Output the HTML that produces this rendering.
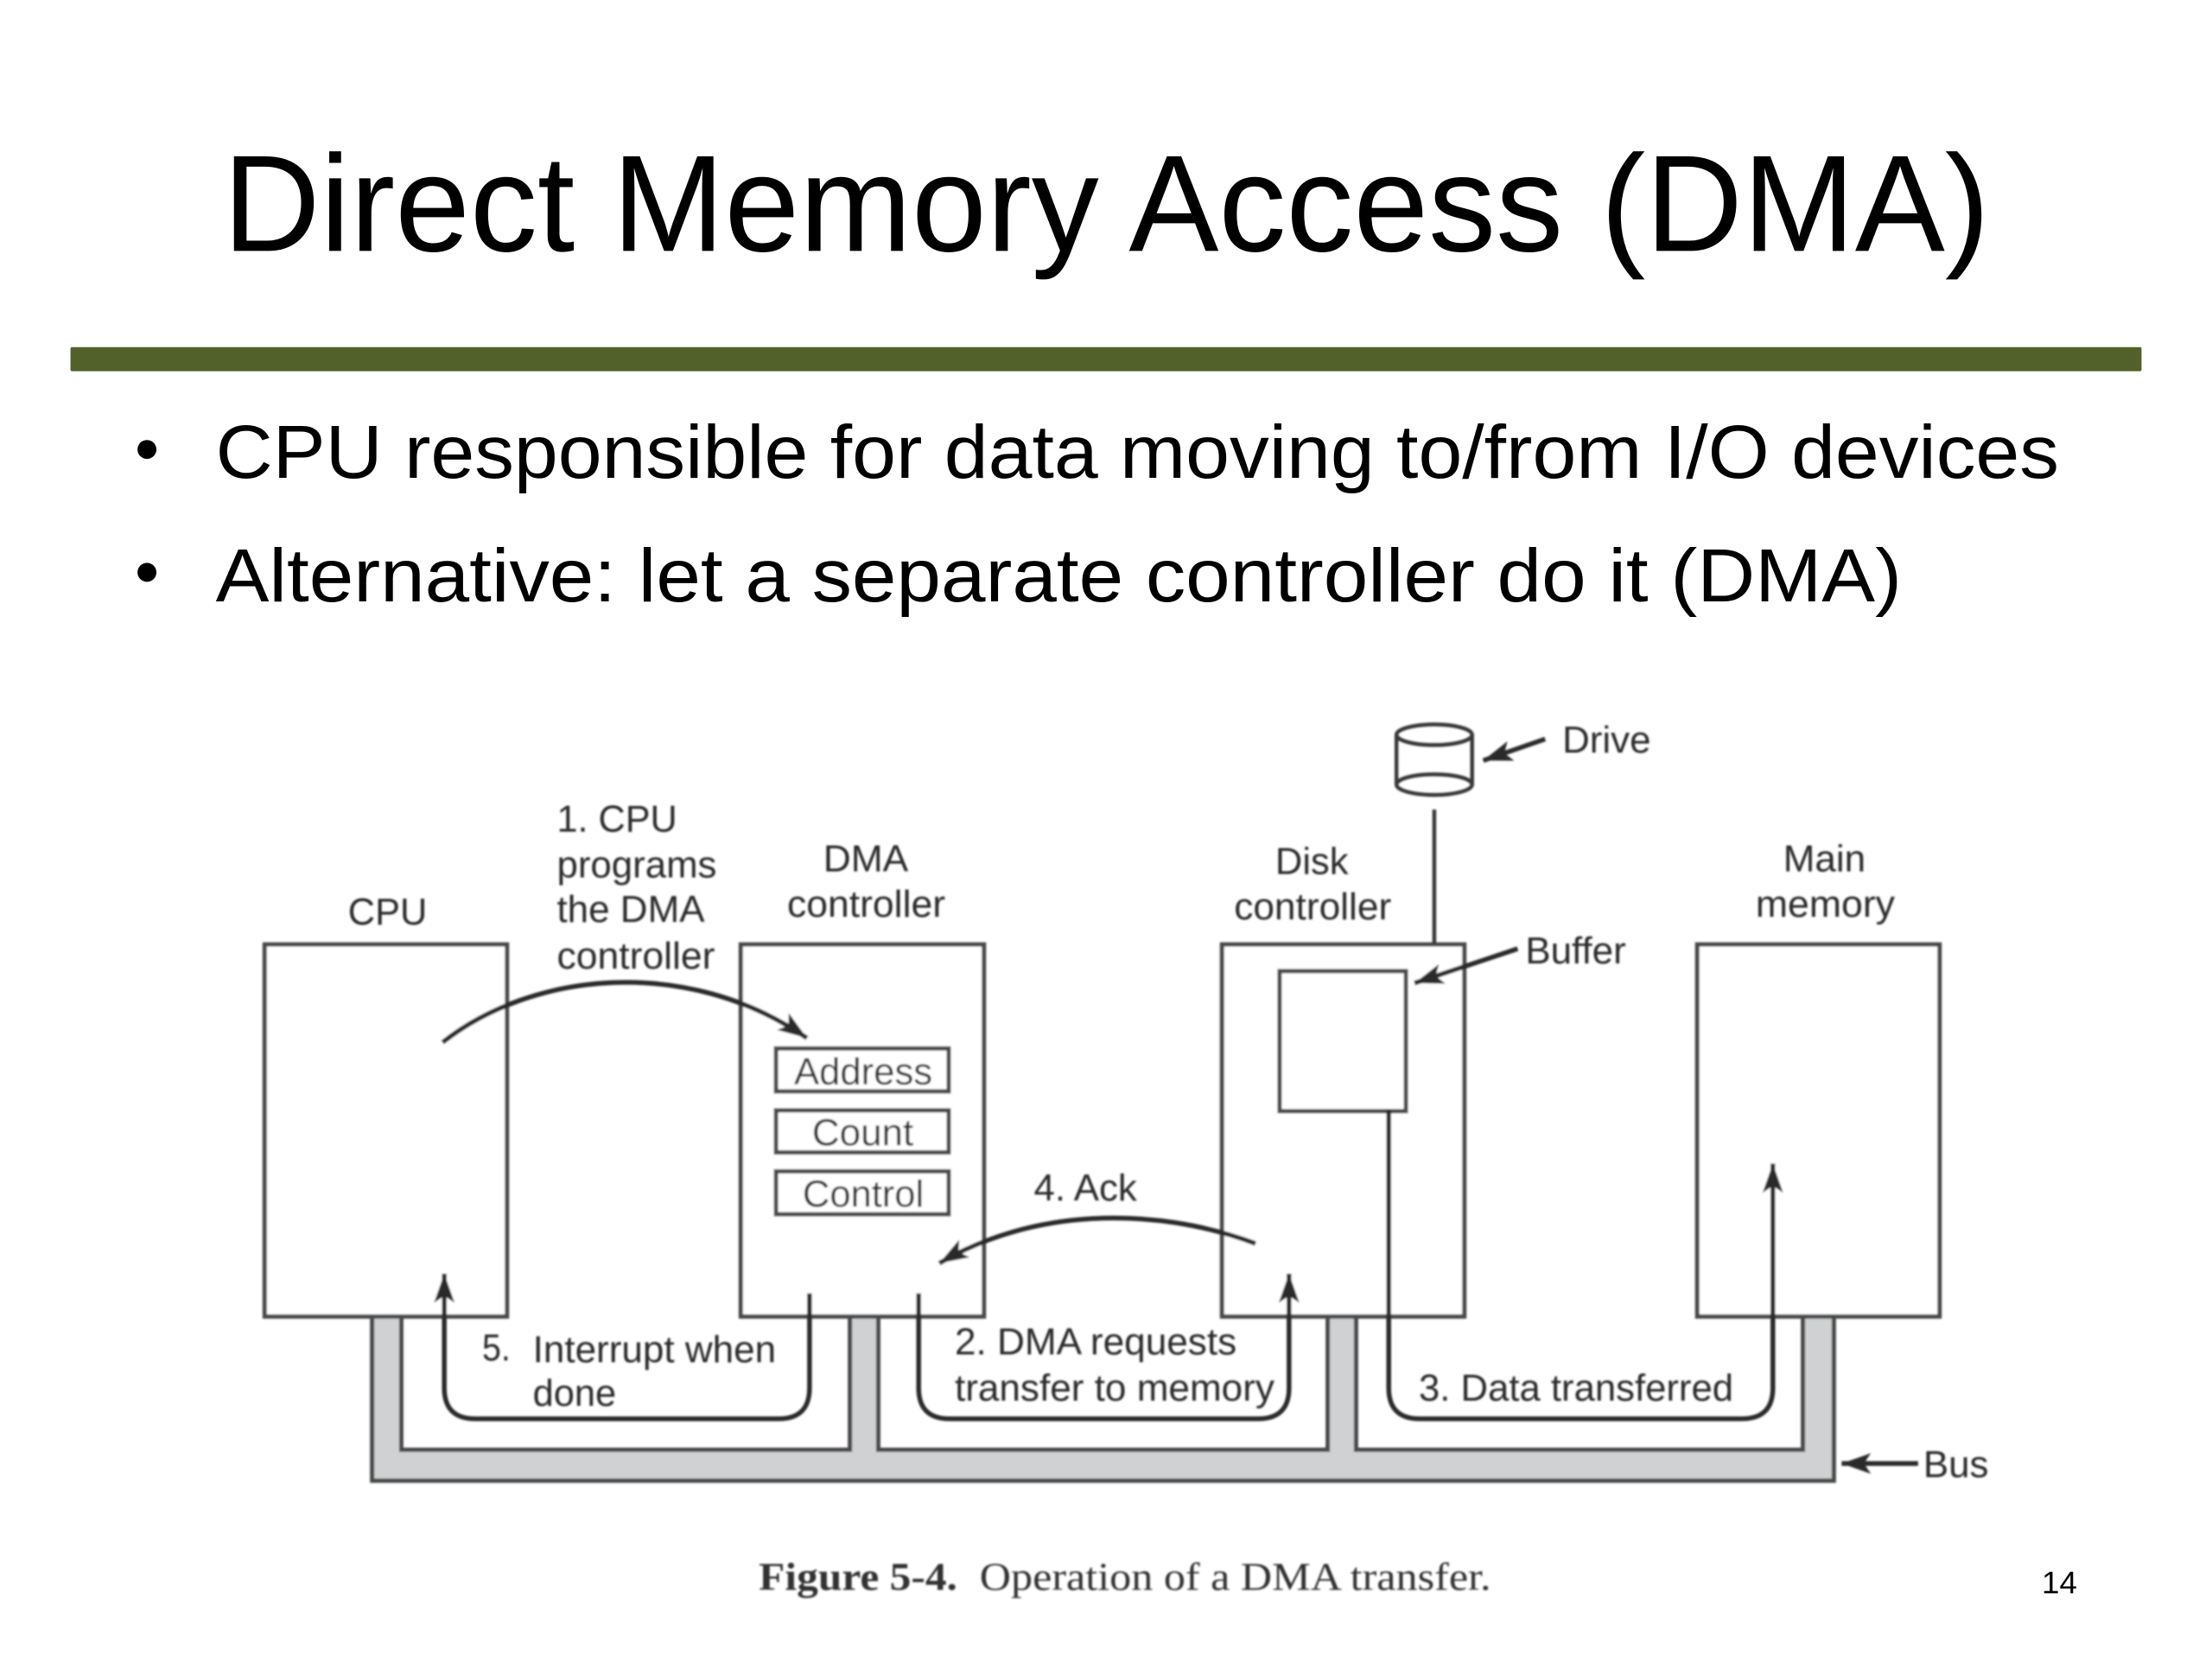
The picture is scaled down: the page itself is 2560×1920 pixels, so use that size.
<!DOCTYPE html>
<html><head><meta charset="utf-8"><title>Direct Memory Access (DMA)</title>
<style>html,body{margin:0;padding:0;background:#fff;width:2560px;height:1920px;overflow:hidden}svg{display:block}
.d text{font-family:"Liberation Sans",sans-serif;font-size:44px;fill:#2a2a2a}
.s{fill:none;stroke:#383838;stroke-width:4.5}
.t{fill:none;stroke:#2a2a2a;stroke-width:5.5}
.b{fill:#fff;stroke:#4a4a4a;stroke-width:5}
</style></head><body>
<svg width="2560" height="1920" viewBox="0 0 2574 1930.5" preserveAspectRatio="none" xmlns="http://www.w3.org/2000/svg">
<defs>
<filter id="f" x="-5%" y="-5%" width="110%" height="110%"><feGaussianBlur stdDeviation="1.2"/></filter>
<marker id="a" markerUnits="userSpaceOnUse" markerWidth="44" markerHeight="30" refX="38" refY="15" orient="auto"><path d="M38,15 L4,3 L12,15 L4,27Z" fill="#2a2a2a"/></marker>
</defs>
<text x="259.4" y="292" font-family="Liberation Sans,sans-serif" font-size="160" textLength="2056" lengthAdjust="spacingAndGlyphs" fill="#000">Direct Memory Access (DMA)</text>
<rect x="82" y="404" width="2410" height="28" rx="2" fill="#52612a"/>
<g font-family="Liberation Sans,sans-serif" font-size="88" fill="#000">
<circle cx="171" cy="523" r="11"/><circle cx="171" cy="666" r="11"/>
<text x="251" y="556" textLength="2145" lengthAdjust="spacingAndGlyphs">CPU responsible for data moving to/from I/O devices</text>
<text x="251" y="700" textLength="1962" lengthAdjust="spacingAndGlyphs">Alternative: let a separate controller do it (DMA)</text>
</g>
<g class="d" filter="url(#f)">
<path d="M433 1531V1723H2134V1531H2098V1687H1578V1531H1545V1687H1022V1531H989V1687H467V1531Z" fill="#cfd1d2" stroke="#4a4a4a" stroke-width="5"/>
<rect class="b" x="308" y="1099" width="282" height="433"/>
<rect class="b" x="862" y="1099" width="283" height="433"/>
<rect class="b" x="1422" y="1099" width="282" height="433"/>
<rect class="b" x="1975" y="1099" width="282" height="433"/>
<rect class="b" x="1489" y="1130" width="147" height="163"/>
<rect class="b" x="903" y="1220" width="201" height="50"/>
<rect class="b" x="903" y="1292" width="201" height="49"/>
<rect class="b" x="903" y="1363" width="201" height="50"/>
<path class="s" d="M1669 942V1098"/>
<path class="s" d="M1625 855V913A44 12 0 0 0 1713 913V855"/>
<ellipse class="s" cx="1669" cy="855" rx="44" ry="12"/>
<path class="s" d="M1625 913A44 12 0 0 1 1713 913"/>
<path class="t" d="M515 1213C620 1130 800 1112 939 1208" marker-end="url(#a)"/>
<path class="t" d="M1461 1447C1340 1402 1200 1407 1093 1470" marker-end="url(#a)"/>
<path class="t" d="M942 1505V1615Q942 1651 906 1651H553Q517 1651 517 1615V1482" marker-end="url(#a)"/>
<path class="t" d="M1069 1505V1615Q1069 1651 1105 1651H1464Q1500 1651 1500 1615V1482" marker-end="url(#a)"/>
<path class="t" d="M1616 1291V1615Q1616 1651 1652 1651H2027Q2063 1651 2063 1615V1354" marker-end="url(#a)"/>
<path class="t" d="M1798 860L1726 885" marker-end="url(#a)"/>
<path class="t" d="M1766 1104L1646 1144" marker-end="url(#a)"/>
<path class="t" d="M2232 1703H2143" marker-end="url(#a)"/>
<text x="405" y="1076" textLength="92" lengthAdjust="spacingAndGlyphs">CPU</text>
<text x="648" y="968" textLength="140" lengthAdjust="spacingAndGlyphs">1. CPU</text>
<text x="648" y="1021" textLength="186" lengthAdjust="spacingAndGlyphs">programs</text>
<text x="648" y="1073" textLength="172" lengthAdjust="spacingAndGlyphs">the DMA</text>
<text x="648" y="1127" textLength="184" lengthAdjust="spacingAndGlyphs">controller</text>
<text x="958" y="1014" textLength="99" lengthAdjust="spacingAndGlyphs">DMA</text>
<text x="916" y="1067" textLength="184" lengthAdjust="spacingAndGlyphs">controller</text>
<text x="924" y="1262" textLength="161" lengthAdjust="spacingAndGlyphs">Address</text>
<text x="945" y="1333" textLength="118" lengthAdjust="spacingAndGlyphs">Count</text>
<text x="934" y="1404" textLength="141" lengthAdjust="spacingAndGlyphs">Control</text>
<text x="1203" y="1397" textLength="120" lengthAdjust="spacingAndGlyphs">4. Ack</text>
<text x="561" y="1583" textLength="33" lengthAdjust="spacingAndGlyphs">5.</text>
<text x="620" y="1585" textLength="283" lengthAdjust="spacingAndGlyphs">Interrupt when</text>
<text x="620" y="1636" textLength="97" lengthAdjust="spacingAndGlyphs">done</text>
<text x="1111" y="1576" textLength="328" lengthAdjust="spacingAndGlyphs">2. DMA requests</text>
<text x="1111" y="1630" textLength="372" lengthAdjust="spacingAndGlyphs">transfer to memory</text>
<text x="1651" y="1630" textLength="366" lengthAdjust="spacingAndGlyphs">3. Data transferred</text>
<text x="1484" y="1017" textLength="85" lengthAdjust="spacingAndGlyphs">Disk</text>
<text x="1436" y="1070" textLength="183" lengthAdjust="spacingAndGlyphs">controller</text>
<text x="2075" y="1014" textLength="96" lengthAdjust="spacingAndGlyphs">Main</text>
<text x="2043" y="1067" textLength="162" lengthAdjust="spacingAndGlyphs">memory</text>
<text x="1818" y="876" textLength="103" lengthAdjust="spacingAndGlyphs">Drive</text>
<text x="1775" y="1121" textLength="117" lengthAdjust="spacingAndGlyphs">Buffer</text>
<text x="2238" y="1719" textLength="76" lengthAdjust="spacingAndGlyphs">Bus</text>
</g>
<g filter="url(#f)" font-family="Liberation Serif,serif" font-size="46" fill="#333">
<text x="883" y="1850" font-weight="bold" textLength="231" lengthAdjust="spacingAndGlyphs">Figure 5-4.</text>
<text x="1140" y="1850" textLength="595" lengthAdjust="spacingAndGlyphs">Operation of a DMA transfer.</text>
</g>
<text x="2376" y="1854" font-family="Liberation Sans,sans-serif" font-size="36" textLength="41" lengthAdjust="spacingAndGlyphs" fill="#000">14</text>
</svg>
</body></html>
